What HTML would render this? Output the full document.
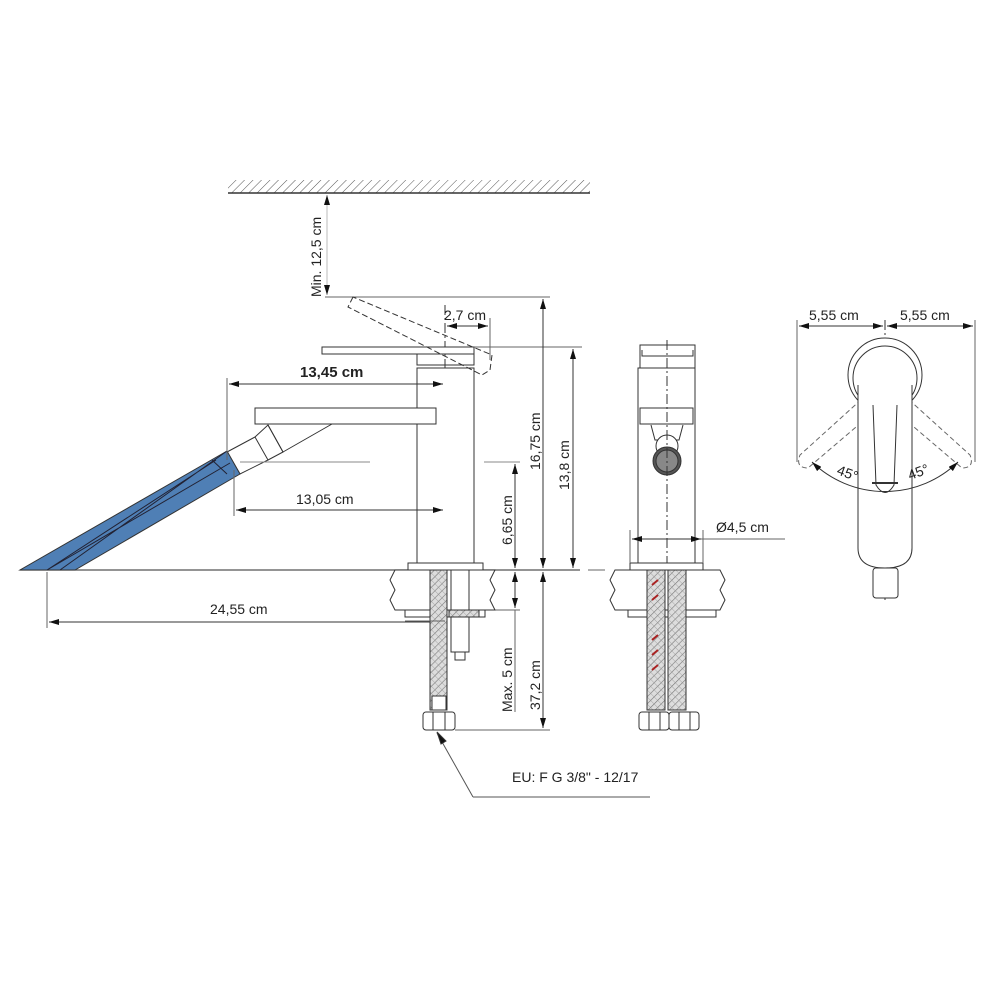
<!DOCTYPE html>
<html><head><meta charset="utf-8"><style>
html,body{margin:0;padding:0;background:#fff;}
svg{display:block;}
text{font-family:"Liberation Sans",sans-serif;font-size:14px;fill:#222;}
</style></head><body>
<svg width="1000" height="1000" viewBox="0 0 1000 1000" xmlns="http://www.w3.org/2000/svg">
<defs>
<pattern id="hatch" width="6" height="6" patternUnits="userSpaceOnUse" patternTransform="rotate(45)">
<line x1="0" y1="0" x2="0" y2="6" stroke="#555" stroke-width="1"/></pattern>
<pattern id="braid" width="5" height="5" patternUnits="userSpaceOnUse" patternTransform="rotate(45)">
<rect width="5" height="5" fill="#ddd"/><line x1="0" y1="0" x2="0" y2="5" stroke="#777" stroke-width="1.2"/><line x1="0" y1="0" x2="5" y2="0" stroke="#999" stroke-width="0.8"/></pattern>
<marker id="a" viewBox="0 0 10 6" refX="10" refY="3" markerWidth="10" markerHeight="6" orient="auto-start-reverse" markerUnits="userSpaceOnUse"><path d="M0,0 L10,3 L0,6z" fill="#111"/></marker>
</defs>
<g fill="none" stroke="#333" stroke-width="1">
<!-- ceiling -->
<rect x="228" y="180" width="362" height="13" fill="url(#hatch)" stroke="none"/>
<line x1="228" y1="193" x2="590" y2="193" stroke-width="1.5"/>
<line x1="327" y1="195" x2="327" y2="295" marker-start="url(#a)" marker-end="url(#a)" stroke="#bbb"/>
<!-- extension lines -->
<line x1="325" y1="297" x2="550" y2="297" stroke="#666"/>
<line x1="474" y1="347" x2="582" y2="347" stroke="#666"/>
<line x1="20" y1="570" x2="580" y2="570" stroke="#555" stroke-width="1.2"/>
<!-- centerline -->
<line x1="445" y1="305" x2="445" y2="650" stroke-dasharray="10,3,2,3"/>
<!-- body -->
<rect x="417" y="368" width="57" height="195" fill="#fff"/>
<rect x="322" y="347" width="152" height="7" fill="#fff"/>
<path d="M417,354 L417,365 L474,365 L474,354"/>
<rect x="408" y="563" width="75" height="7" fill="#fff"/>
<!-- dashed lever -->
<path d="M353,297 L348,307 L482,375 L490,370 L492,355 Z" stroke-dasharray="6,3"/>
<!-- spout -->
<rect x="255" y="408" width="181" height="16" fill="#fff"/>
<path d="M268,425 L283,452 L332,424"/>
<path d="M227,452 L255,437 L268,460 L240,474 Z" fill="#fff"/>
<path d="M255,437 L268,425 L283,452 L268,460"/>
<polygon points="227,451 240,474 75,570 20,570" fill="#4f7fb5" stroke="#333"/>
<path d="M212,460 L227,474 M230,463 L47,570 M216,460 L47,570 M227,451 L60,570" stroke="#223"/>
<line x1="240" y1="462" x2="370" y2="462" stroke="#888"/>
<line x1="484" y1="462" x2="520" y2="462" stroke="#888"/>
<!-- dims side -->
<line x1="227" y1="378" x2="227" y2="460" stroke="#666"/>
<line x1="229" y1="384" x2="443" y2="384" marker-start="url(#a)" marker-end="url(#a)"/>
<line x1="234" y1="470" x2="234" y2="516" stroke="#666"/>
<line x1="236" y1="510" x2="443" y2="510" marker-start="url(#a)" marker-end="url(#a)"/>
<line x1="490" y1="318" x2="490" y2="360" stroke="#666"/>
<line x1="447" y1="326" x2="488" y2="326" marker-start="url(#a)" marker-end="url(#a)"/>
<line x1="515" y1="464" x2="515" y2="568" marker-start="url(#a)" marker-end="url(#a)"/>
<line x1="543" y1="299" x2="543" y2="568" marker-start="url(#a)" marker-end="url(#a)"/>
<line x1="573" y1="349" x2="573" y2="568" marker-start="url(#a)" marker-end="url(#a)"/>
<line x1="47" y1="572" x2="47" y2="628" stroke="#666"/>
<line x1="49" y1="622" x2="443" y2="622" marker-start="url(#a)" marker-end="url(#a)"/>
<line x1="515" y1="572" x2="515" y2="608" marker-start="url(#a)" marker-end="url(#a)"/>
<line x1="515" y1="610" x2="515" y2="712" stroke="#666"/>
<line x1="543" y1="572" x2="543" y2="728" marker-start="url(#a)" marker-end="url(#a)"/>
<line x1="455" y1="730" x2="550" y2="730" stroke="#666"/>
<line x1="483" y1="610" x2="520" y2="610" stroke="#666"/>
<!-- counter side -->
<path d="M395,570 L495,570 L490,580 L495,590 L490,600 L495,610 L395,610 L390,600 L395,590 L390,580 Z" fill="#fff"/>
<rect x="405" y="610" width="80" height="7" fill="#fff"/>
<rect x="430" y="570" width="17" height="140" fill="url(#braid)"/>
<rect x="451" y="570" width="18" height="82" fill="#fff"/>
<rect x="455" y="652" width="10" height="8" fill="#fff"/>
<rect x="449" y="610" width="30" height="7" fill="url(#braid)"/>
<rect x="432" y="696" width="14" height="14" fill="#fff"/>
<rect x="423" y="712" width="32" height="18" rx="3" fill="#fff"/>
<path d="M433,712 V730 M445,712 V730"/>
<line x1="405" y1="621" x2="445" y2="621" stroke="#666"/>
<!-- leader -->
<path d="M473,797 L437,733 M473,797 L650,797" stroke="#555"/>
<path d="M437,732 L441,744 L446,741 Z" fill="#111"/>
<!-- front view -->
<rect x="638" y="368" width="57" height="195" fill="#fff"/>
<rect x="640" y="345" width="55" height="23" fill="#fff"/>
<path d="M642,350 V356 H693 V350"/>
<rect x="640" y="408" width="53" height="16" fill="#fff"/>
<path d="M651,425 L655,440 L679,440 L683,425"/>
<circle cx="667" cy="446" r="11" fill="#fff"/>
<circle cx="667" cy="461" r="14" fill="#555"/>
<circle cx="667" cy="461" r="11" fill="#888"/>
<line x1="667" y1="340" x2="667" y2="570" stroke-dasharray="10,3,2,3"/>
<rect x="630" y="563" width="73" height="7" fill="#fff"/>
<line x1="630" y1="530" x2="630" y2="563" stroke="#666"/>
<line x1="703" y1="530" x2="703" y2="563" stroke="#666"/>
<line x1="632" y1="539" x2="701" y2="539" marker-start="url(#a)" marker-end="url(#a)"/>
<line x1="701" y1="539" x2="785" y2="539" stroke="#666"/>
<line x1="588" y1="570" x2="605" y2="570" stroke="#666"/>
<path d="M615,570 L720,570 L725,580 L720,590 L725,600 L720,610 L615,610 L610,600 L615,590 L610,580 Z" fill="#fff"/>
<rect x="628" y="610" width="88" height="7" fill="#fff"/>
<rect x="647" y="570" width="18" height="140" fill="url(#braid)"/>
<rect x="668" y="570" width="18" height="140" fill="url(#braid)"/>
<g stroke="#a22" stroke-width="2"><path d="M652,585 l6,-5 M652,600 l6,-5 M652,640 l6,-5 M652,655 l6,-5 M652,670 l6,-5"/></g>
<rect x="639" y="712" width="30" height="18" rx="3" fill="#fff"/>
<rect x="669" y="712" width="30" height="18" rx="3" fill="#fff"/>
<path d="M649,712 V730 M660,712 V730 M679,712 V730 M690,712 V730"/>
<!-- top view -->
<line x1="797" y1="320" x2="797" y2="462" stroke="#666"/>
<line x1="975" y1="320" x2="975" y2="462" stroke="#666"/>
<line x1="799" y1="326" x2="883" y2="326" marker-start="url(#a)" marker-end="url(#a)"/>
<line x1="887" y1="326" x2="973" y2="326" marker-start="url(#a)" marker-end="url(#a)"/>
<line x1="885" y1="320" x2="885" y2="600" stroke-dasharray="10,3,2,3"/>
<g stroke-dasharray="5,3" stroke="#666">
<path d="M885,378 L800,455 Q795,468 808,468 L890,398"/>
<path d="M885,378 L970,455 Q975,468 962,468 L880,398"/>
</g>
<circle cx="885" cy="375" r="37" fill="#fff"/>
<circle cx="885" cy="378" r="32"/>
<path d="M858,385 L858,548 Q858,568 885,568 Q912,568 912,548 L912,385" fill="#fff"/>
<path d="M873,405 L876,485 Q885,500 894,485 L897,405"/>
<rect x="873" y="568" width="25" height="30" rx="3" fill="#fff"/>
<path d="M812,462 A105,105 0 0 0 958,462" marker-start="url(#a)" marker-end="url(#a)"/>
<path d="M872,483 L898,483" stroke-width="2"/>
</g>
<text x="300" y="377" style="font-weight:bold;font-size:15px">13,45 cm</text>
<text x="296" y="504">13,05 cm</text>
<text x="444" y="320">2,7 cm</text>
<text x="210" y="614">24,55 cm</text>
<text transform="translate(321,297) rotate(-90)">Min. 12,5 cm</text>
<text transform="translate(512,545) rotate(-90)">6,65 cm</text>
<text transform="translate(540,470) rotate(-90)">16,75 cm</text>
<text transform="translate(569,490) rotate(-90)">13,8 cm</text>
<text transform="translate(512,712) rotate(-90)">Max. 5 cm</text>
<text transform="translate(540,710) rotate(-90)">37,2 cm</text>
<text x="512" y="782">EU: F G 3/8" - 12/17</text>
<text x="716" y="532">Ø4,5 cm</text>
<text x="809" y="320">5,55 cm</text>
<text x="900" y="320">5,55 cm</text>
<text transform="translate(836,474) rotate(20)">45°</text>
<text transform="translate(910,480) rotate(-20)">45°</text>
</svg>
</body></html>
